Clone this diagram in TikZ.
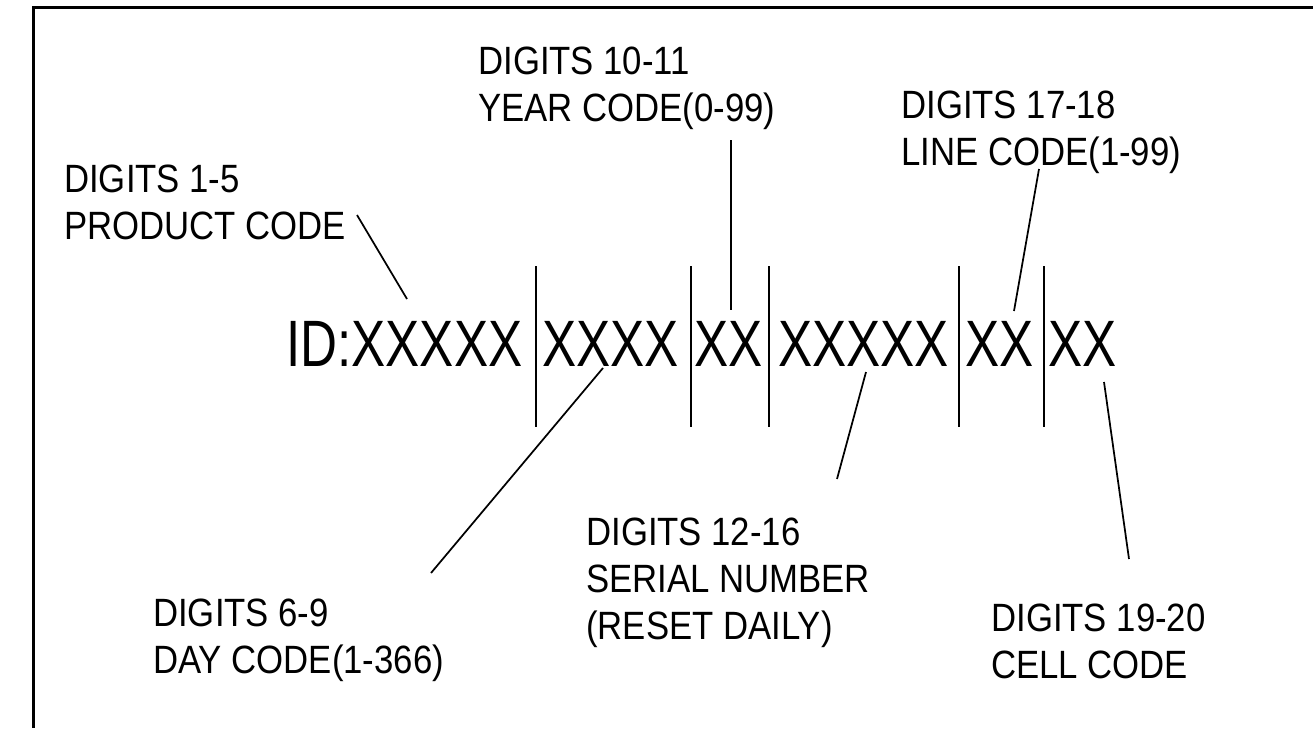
\documentclass[tikz,border=0pt]{standalone}
\usepackage{fontspec}
\newfontfamily\idfont[FakeStretch=0.78]{Liberation Sans}
\newfontfamily\lblfont[FakeStretch=0.88]{Liberation Sans}
\usepackage{tikz}

\tikzset{
  digits/.style={anchor=base west,inner sep=0pt,font=\idfont\fontsize{49.2}{59}\selectfont},
  lbl/.style={anchor=north west,inner sep=0pt,align=left,font=\lblfont\fontsize{29.6}{35.2}\selectfont},
  lead/.style={line width=1.3pt}
}

\begin{document}
\begin{tikzpicture}[x=0.75pt,y=-0.75pt]
  \useasboundingbox (0,0) rectangle (1313,728);
  \draw[line width=1.9pt] (1313,7.5) -- (33.5,7.5) -- (33.5,728);
  % the code itself
  \node[digits] (idprod) at (286,366) {ID:XXXXX};
  \node[digits] (idday)  at (542,366) {XXXX};
  \node[digits] (idyear) at (694,366) {XX};
  \node[digits] (idser)  at (778,366) {XXXXX};
  \node[digits] (idline) at (965,366) {XX};
  \node[digits] (idcell) at (1048,366) {XX};
  \foreach \x in {536,691,769,959,1044} \draw[lead] (\x,266) -- (\x,427);
  % labels
  \node[lbl] (lprod) at (64,165)  {DIGITS 1-5\\PRODUCT CODE};
  \node[lbl] (lyear) at (478,47)  {DIGITS 10-11\\YEAR CODE(0-99)};
  \node[lbl] (lline) at (901,91)  {DIGITS 17-18\\LINE CODE(1-99)};
  \node[lbl] (lday)  at (153,599) {DIGITS 6-9\\DAY CODE(1-366)};
  \node[lbl] (lser)  at (586,518) {DIGITS 12-16\\SERIAL NUMBER\\(RESET DAILY)};
  \node[lbl] (lcell) at (991,604) {DIGITS 19-20\\CELL CODE};
  % leader lines
  \coordinate (prodA) at (357,215);  \coordinate (prodB) at (407,299);
  \coordinate (yearA) at (731,140);  \coordinate (yearB) at (731,310);
  \coordinate (lineA) at (1039,169); \coordinate (lineB) at (1014,311);
  \coordinate (dayA)  at (431,573);  \coordinate (dayB)  at (603,368);
  \coordinate (serA)  at (837,479);  \coordinate (serB)  at (866,372);
  \coordinate (cellA) at (1129,559); \coordinate (cellB) at (1104,382);
  \foreach \n in {prod,year,line,day,ser,cell} \draw[lead] (\n A) -- (\n B);
\end{tikzpicture}
\end{document}
